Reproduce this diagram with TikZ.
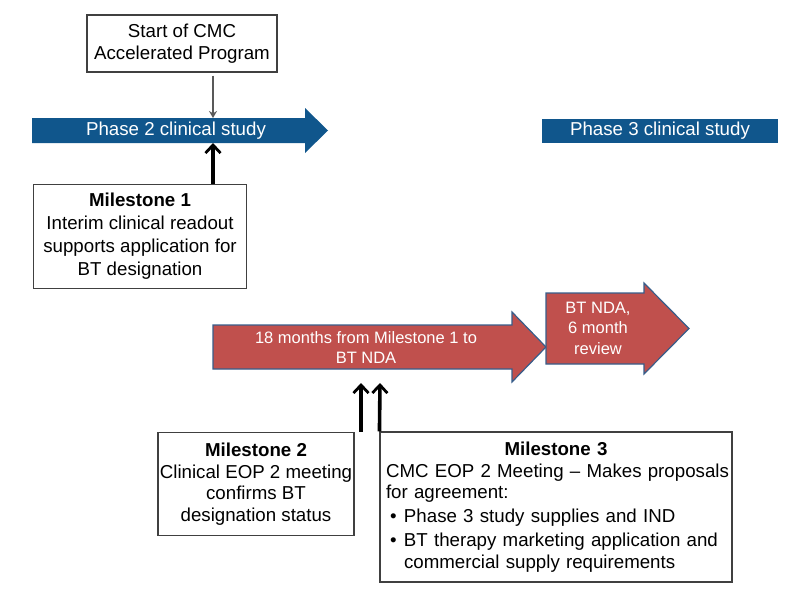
\documentclass[tikz,border=0pt]{standalone}
\usepackage{fontspec}
\setmainfont{Liberation Sans}
\usetikzlibrary{arrows.meta}
\definecolor{phaseblue}{RGB}{16,86,140}
\definecolor{ndared}{RGB}{192,80,77}
\definecolor{ndaedge}{RGB}{56,93,138}
\definecolor{boxedge}{RGB}{64,64,64}
\begin{document}
\begin{tikzpicture}[x=1pt,y=-1pt,
  box/.style={draw=boxedge, line width=1.1pt, fill=white, align=center,
    font=\fontsize{18.7}{22.3}\selectfont, inner sep=1pt},
  bartext/.style={text=white, inner sep=0pt, font=\fontsize{18.7}{22}\selectfont},
  redtext/.style={text=white, align=center, inner sep=0pt, font=\fontsize{16.5}{20.5}\selectfont},
  redarrow/.style={fill=ndared, draw=ndaedge, line width=1.2pt, line join=miter},
  thickarrow/.style={line width=3.6pt, -{Straight Barb[length=8pt,width=15pt,line width=2.8pt]}},
  thinarrow/.style={draw=black!65, line width=1.3pt, -{Stealth[length=7pt,width=8pt]}},
]
\useasboundingbox (0,0) rectangle (792,594);

% Phase bars
\fill[phaseblue] (32,118) -- (305,118) -- (305,108) -- (328,130.5) -- (305,153) -- (305,143) -- (32,143) -- cycle;
\node[bartext] (p2) at (176,130.5) {Phase 2 clinical study};
\fill[phaseblue] (542,118.5) rectangle (778,142.5);
\node[bartext] (p3) at (660,130.5) {Phase 3 clinical study};
\coordinate (p2top) at (213,118);
\coordinate (p2bot) at (213,143);

% Start box
\node[box, minimum width=190pt, minimum height=57pt] (start) at (182,43.5)
  {Start of CMC\\Accelerated Program};
\draw[thinarrow, shorten <=3pt] (start.south -| p2top) -- (p2top);

% Milestone 1
\node[box, minimum width=213pt, minimum height=104pt, font=\fontsize{18.7}{23}\selectfont] (m1) at (140,236.5)
  {\textbf{Milestone 1}\\Interim clinical readout\\supports application for\\BT designation};
\draw[thickarrow] (m1.north -| p2bot) -- (p2bot);

% Red arrows
\filldraw[redarrow] (213,325) -- (512,325) -- (512,312) -- (546,347) -- (512,382) -- (512,369) -- (213,369) -- cycle;
\node[redtext] (r1) at (366,347.5) {18 months from Milestone 1 to\\BT NDA};
\filldraw[redarrow] (546,293) -- (644,293) -- (644,283) -- (689,328.5) -- (644,374) -- (644,364) -- (546,364) -- cycle;
\node[redtext] (r2) at (598,328) {BT NDA,\\6 month\\review};
\coordinate (r1a) at (361,383);
\coordinate (r1b) at (380,383);

% Milestone 2
\node[box, minimum width=196pt, minimum height=103pt, font=\fontsize{18.7}{21.5}\selectfont] (m2) at (256,484)
  {\textbf{Milestone 2}\\Clinical EOP 2 meeting\\confirms BT\\designation status};

% Milestone 3
\node[box, minimum width=352pt, minimum height=150pt, text width=346pt,
      inner xsep=3pt, align=left, font=\fontsize{18.7}{21.5}\selectfont] (m3) at (556,507)
  {\makebox[\linewidth]{\textbf{Milestone 3}}\\
   \mbox{\hspace*{3pt}CMC EOP 2 Meeting – Makes proposals}\\
   \hspace*{3pt}for agreement:\\[2.5pt]
   \hspace*{7pt}\makebox[14pt][l]{•}Phase 3 study supplies and IND\\[2.5pt]
   \hspace*{7pt}\makebox[14pt][l]{•}BT therapy marketing application and\\
   \hspace*{21pt}commercial supply requirements};

\draw[thickarrow] (m2.north -| r1a) -- (r1a);
\draw[thickarrow] (m3.north west) -- (r1b);
\end{tikzpicture}
\end{document}
